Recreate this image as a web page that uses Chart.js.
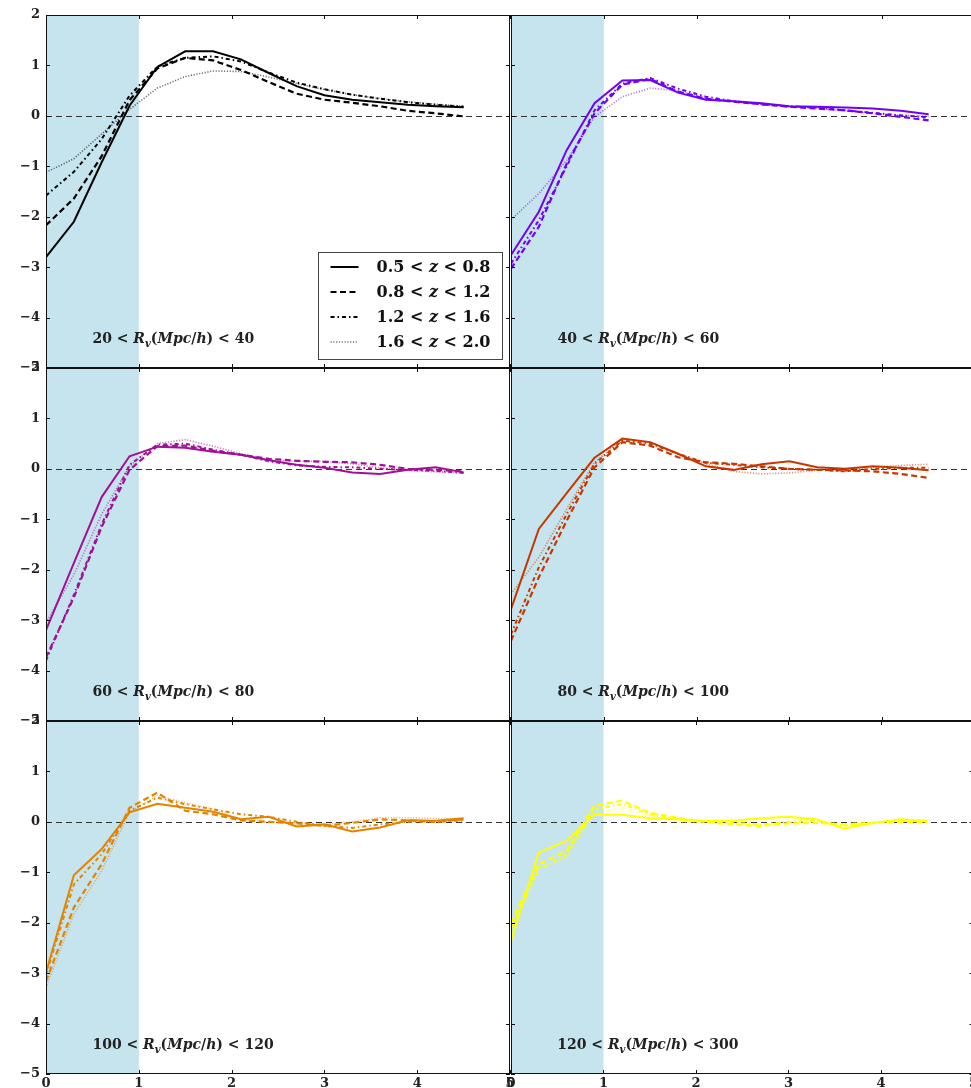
<!DOCTYPE html>
<html>
<head>
<meta charset="utf-8">
<script src="https://cdn.jsdelivr.net/npm/chart.js@4.4.1/dist/chart.umd.min.js"></script>
<style>
  html, body { margin: 0; padding: 0; background: #fff; width: 971px; height: 1088px; overflow: hidden; }
  #figure { position: relative; width: 971px; height: 1088px; overflow: hidden; }
  #figure canvas { position: absolute; left: 0; top: 0; }
</style>
</head>
<body>
<div id="figure"></div>
<script>
// Radial distance in units of the void radius
const radius = [0, 0.3, 0.6, 0.9, 1.2, 1.5, 1.8, 2.1, 2.4, 2.7, 3.0, 3.3, 3.6, 3.9, 4.2, 4.5];

// Redshift bins (one line style each) and void-radius bins (one panel each)
const redshiftBins = ['0.5 < z < 0.8', '0.8 < z < 1.2', '1.2 < z < 1.6', '1.6 < z < 2.0'];
const rvLow  = [20, 40, 60, 80, 100, 120];
const rvHigh = [40, 60, 80, 100, 120, 300];

// Axis ticks
const xTicks = [0, 1, 2, 3, 4, 5];
const yTicks = [-5, -4, -3, -2, -1, 0, 1, 2];
const innerRegion = [0, 1];

// 20 < Rv < 40
const rv20_z05 = [-2.80, -2.10, -0.92, 0.20, 0.97, 1.28, 1.28, 1.12, 0.85, 0.59, 0.41, 0.32, 0.27, 0.22, 0.19, 0.17];
const rv20_z08 = [-2.17, -1.64, -0.80, 0.31, 0.94, 1.15, 1.10, 0.91, 0.67, 0.44, 0.32, 0.26, 0.19, 0.10, 0.05, -0.01];
const rv20_z12 = [-1.58, -1.11, -0.46, 0.40, 0.98, 1.15, 1.18, 1.08, 0.86, 0.66, 0.53, 0.42, 0.34, 0.27, 0.22, 0.18];
const rv20_z16 = [-1.12, -0.85, -0.36, 0.13, 0.55, 0.78, 0.89, 0.88, 0.77, 0.64, 0.52, 0.42, 0.34, 0.28, 0.23, 0.19];
// 40 < Rv < 60
const rv40_z05 = [-2.76, -1.90, -0.68, 0.25, 0.70, 0.71, 0.46, 0.32, 0.29, 0.25, 0.19, 0.18, 0.165, 0.145, 0.10, 0.03];
const rv40_z08 = [-3.03, -2.20, -0.95, 0.05, 0.62, 0.73, 0.48, 0.34, 0.28, 0.23, 0.18, 0.145, 0.11, 0.05, -0.02, -0.09];
const rv40_z12 = [-2.93, -2.07, -1.00, 0.11, 0.64, 0.75, 0.54, 0.38, 0.29, 0.23, 0.19, 0.165, 0.11, 0.06, 0.01, -0.03];
const rv40_z16 = [-2.06, -1.54, -0.88, -0.02, 0.38, 0.55, 0.50, 0.35, 0.29, 0.23, 0.18, 0.15, 0.10, 0.05, 0.01, -0.01];
// 60 < Rv < 80
const rv60_z05 = [-3.20, -1.87, -0.56, 0.25, 0.44, 0.42, 0.34, 0.28, 0.17, 0.08, 0.02, -0.07, -0.10, -0.02, 0.03, -0.07];
const rv60_z08 = [-3.74, -2.55, -1.15, -0.02, 0.45, 0.46, 0.36, 0.28, 0.20, 0.16, 0.14, 0.13, 0.08, 0.00, -0.02, -0.05];
const rv60_z12 = [-3.80, -2.50, -1.10, 0.08, 0.48, 0.50, 0.38, 0.28, 0.15, 0.07, 0.04, 0.03, 0.00, -0.02, -0.04, -0.08];
const rv60_z16 = [-3.05, -2.10, -0.90, 0.05, 0.50, 0.58, 0.45, 0.30, 0.18, 0.15, 0.15, 0.10, 0.02, -0.03, -0.06, -0.08];
// 80 < Rv < 100
const rv80_z05 = [-2.78, -1.19, -0.48, 0.22, 0.60, 0.53, 0.30, 0.05, -0.02, 0.09, 0.15, 0.03, 0.00, 0.05, 0.02, -0.03];
const rv80_z08 = [-3.41, -2.15, -1.03, 0.03, 0.53, 0.46, 0.23, 0.13, 0.10, 0.05, 0.00, -0.02, -0.03, -0.05, -0.10, -0.18];
const rv80_z12 = [-3.28, -1.95, -0.90, 0.10, 0.56, 0.50, 0.30, 0.12, 0.08, 0.03, 0.00, -0.02, -0.05, 0.00, 0.02, 0.02];
const rv80_z16 = [-2.48, -1.75, -0.80, 0.13, 0.58, 0.52, 0.30, 0.10, -0.05, -0.10, -0.08, -0.03, 0.00, 0.03, 0.07, 0.09];
// 100 < Rv < 120
const rv100_z05 = [-2.99, -1.06, -0.54, 0.19, 0.36, 0.28, 0.20, 0.05, 0.10, -0.09, -0.05, -0.19, -0.11, 0.03, 0.02, 0.07];
const rv100_z08 = [-3.16, -1.70, -0.84, 0.28, 0.58, 0.22, 0.15, 0.03, 0.00, -0.03, -0.08, -0.02, 0.05, 0.03, 0.00, 0.05];
const rv100_z12 = [-3.03, -1.24, -0.64, 0.22, 0.48, 0.35, 0.25, 0.15, 0.10, 0.00, -0.08, -0.12, -0.05, 0.00, 0.00, 0.03];
const rv100_z16 = [-3.29, -1.83, -0.97, 0.19, 0.52, 0.38, 0.25, 0.05, 0.00, -0.02, -0.05, 0.00, 0.08, 0.08, 0.07, 0.05];
// 120 < Rv < 300
const rv120_z05 = [-2.36, -0.61, -0.38, 0.14, 0.14, 0.07, 0.05, 0.02, 0.02, 0.07, 0.10, 0.05, -0.13, -0.03, 0.05, 0.02];
const rv120_z08 = [-2.00, -0.84, -0.58, 0.32, 0.42, 0.18, 0.08, 0.00, -0.05, -0.08, -0.03, -0.02, -0.05, -0.02, 0.00, 0.00];
const rv120_z12 = [-2.10, -0.95, -0.65, 0.25, 0.35, 0.15, 0.05, 0.00, -0.02, -0.05, 0.00, 0.02, -0.08, -0.02, 0.03, 0.00];
const rv120_z16 = [-2.20, -0.90, -0.72, 0.18, 0.28, 0.12, 0.00, -0.02, -0.05, -0.05, -0.02, 0.00, -0.05, 0.00, 0.02, 0.00];

const panelSeries = [
  [rv20_z05, rv20_z08, rv20_z12, rv20_z16],
  [rv40_z05, rv40_z08, rv40_z12, rv40_z16],
  [rv60_z05, rv60_z08, rv60_z12, rv60_z16],
  [rv80_z05, rv80_z08, rv80_z12, rv80_z16],
  [rv100_z05, rv100_z08, rv100_z12, rv100_z16],
  [rv120_z05, rv120_z08, rv120_z12, rv120_z16]
];

// One colour per void-radius bin (gnuplot colour map steps)
const panelColors = ['0,0,0', '114,2,243', '161,16,150', '198,55,0', '228,131,0', '255,255,0'];

// Line styles per redshift bin
const lineStyles = [
  { dash: [], width: 2, alpha: 1 },
  { dash: [6, 3.5], width: 2.2, alpha: 1 },
  { dash: [4, 3, 1.5, 3], width: 2, alpha: 1 },
  { dash: [1.2, 1.6], width: 1.6, alpha: 0.55 }
];

// Figure grid geometry (pixels)
const FIG_W = 980, FIG_H = 1088;
const colLeft = [46, 511];
const colWidth = 464;
const rowTop = [15, 368, 721];
const rowHeight = 353;

const SERIF = '"DejaVu Serif", "Liberation Serif", serif';

function drawRich(ctx, parts, x, y, size) {
  let cx = x;
  for (const p of parts) {
    const s = p.sub ? size * 0.72 : size;
    ctx.font = (p.italic ? 'italic ' : '') + 'bold ' + s + 'px ' + SERIF;
    ctx.fillText(p.t, cx, y + (p.sub ? size * 0.28 : 0));
    cx += ctx.measureText(p.t).width;
  }
}

function zParts(label) {
  const parts = [];
  label.split('z').forEach((seg, i, arr) => {
    if (seg) parts.push({ t: seg });
    if (i < arr.length - 1) parts.push({ t: 'z', italic: true });
  });
  return parts;
}

const panelDecor = {
  id: 'panelDecor',
  beforeDatasetsDraw(chart) {
    const { ctx, chartArea: a, scales: { x, y } } = chart;
    ctx.save();
    // inner region shading
    const x0 = x.getPixelForValue(innerRegion[0]);
    const x1 = x.getPixelForValue(innerRegion[1]);
    ctx.fillStyle = 'rgba(173,216,230,0.7)';
    ctx.fillRect(x0, a.top, x1 - x0, a.bottom - a.top);
    // zero reference line
    const yz = Math.round(y.getPixelForValue(0)) + 0.5;
    ctx.strokeStyle = '#333';
    ctx.lineWidth = 1;
    ctx.setLineDash([6, 4]);
    ctx.beginPath();
    ctx.moveTo(a.left, yz);
    ctx.lineTo(a.right, yz);
    ctx.stroke();
    ctx.restore();
  },
  afterDatasetsDraw(chart, args, opts) {
    const { ctx, chartArea: a, scales: { x, y } } = chart;
    ctx.save();
    // frame
    ctx.strokeStyle = '#111';
    ctx.lineWidth = 1;
    ctx.setLineDash([]);
    const L = Math.round(a.left) + 0.5, R = Math.round(a.right) - 0.5;
    const T = Math.round(a.top) + 0.5, B = Math.round(a.bottom) - 0.5;
    ctx.strokeRect(L, T, R - L, B - T);
    // inward ticks on all four sides
    ctx.beginPath();
    for (const v of xTicks) {
      const px = Math.round(x.getPixelForValue(v)) + 0.5;
      ctx.moveTo(px, a.top); ctx.lineTo(px, a.top + 4);
      ctx.moveTo(px, a.bottom); ctx.lineTo(px, a.bottom - 4);
    }
    for (const v of yTicks) {
      const py = Math.round(y.getPixelForValue(v)) + 0.5;
      ctx.moveTo(a.left, py); ctx.lineTo(a.left + 4, py);
      ctx.moveTo(a.right, py); ctx.lineTo(a.right - 4, py);
    }
    ctx.stroke();

    // void radius bin label
    ctx.fillStyle = '#222';
    ctx.textBaseline = 'alphabetic';
    ctx.textAlign = 'left';
    const lx = x.getPixelForValue(0.5), ly = y.getPixelForValue(-4.5);
    drawRich(ctx, [
      { t: String(opts.low) }, { t: ' < ' },
      { t: 'R', italic: true }, { t: 'v', italic: true, sub: true },
      { t: '(' }, { t: 'Mpc', italic: true }, { t: '/' }, { t: 'h', italic: true }, { t: ')' },
      { t: ' < ' }, { t: String(opts.high) }
    ], lx, ly, 14);

    // legend box
    if (opts.legend) {
      const bw = 184, bh = 107;
      const bx = Math.round(a.right - 8 - bw) + 0.5;
      const by = Math.round(a.bottom - 9 - bh) + 0.5;
      ctx.fillStyle = '#fff';
      ctx.fillRect(bx, by, bw, bh);
      ctx.strokeStyle = '#444';
      ctx.lineWidth = 1;
      ctx.strokeRect(bx, by, bw, bh);
      chart.data.datasets.forEach((ds, i) => {
        const ry = by + 14.5 + i * 25;
        ctx.save();
        ctx.strokeStyle = ds.borderColor;
        ctx.lineWidth = ds.borderWidth;
        ctx.setLineDash(ds.borderDash);
        ctx.beginPath();
        ctx.moveTo(bx + 12, ry);
        ctx.lineTo(bx + 40, ry);
        ctx.stroke();
        ctx.restore();
        ctx.fillStyle = '#111';
        ctx.textBaseline = 'middle';
        drawRich(ctx, zParts(ds.label), bx + 58, ry + 1, 16);
      });
    }
    ctx.restore();
  }
};

const figure = document.getElementById('figure');

panelSeries.forEach((series, p) => {
  const col = p % 2, row = Math.floor(p / 2);
  const showY = col === 0;
  const showX = row === 2;
  const plotLeft = colLeft[col], plotRight = colLeft[col] + colWidth;
  const plotTop = rowTop[row], plotBottom = rowTop[row] + rowHeight;
  const yAxisW = 46, xAxisH = FIG_H - plotBottom;

  const canvas = document.createElement('canvas');
  canvas.width = FIG_W; canvas.height = FIG_H;
  canvas.style.width = FIG_W + 'px'; canvas.style.height = FIG_H + 'px';
  figure.appendChild(canvas);

  const datasets = series.map((vals, s) => {
    const st = lineStyles[s];
    return {
      label: redshiftBins[s],
      data: radius.map((r, i) => ({ x: r, y: vals[i] })),
      borderColor: 'rgba(' + panelColors[p] + ',' + st.alpha + ')',
      borderWidth: st.width,
      borderDash: st.dash,
      pointRadius: 0,
      tension: 0,
      fill: false
    };
  });
  // draw the lighter dotted bin first so the others sit above it
  datasets.forEach((d, i) => d.order = 4 - i);

  new Chart(canvas, {
    type: 'line',
    data: { datasets },
    options: {
      responsive: false,
      devicePixelRatio: 1,
      animation: false,
      events: [],
      layout: {
        autoPadding: false,
        padding: {
          left: showY ? plotLeft - yAxisW : plotLeft,
          right: FIG_W - plotRight,
          top: plotTop,
          bottom: showX ? 0 : FIG_H - plotBottom
        }
      },
      plugins: {
        legend: { display: false },
        tooltip: { enabled: false },
        panelDecor: { low: rvLow[p], high: rvHigh[p], legend: p === 0 }
      },
      scales: {
        x: {
          type: 'linear', min: 0, max: 5,
          display: showX,
          grid: { display: false, drawTicks: false },
          border: { display: false },
          afterBuildTicks: (sc) => { sc.ticks = xTicks.map(v => ({ value: v })); },
          afterFit: (sc) => { sc.height = showX ? xAxisH : 0; },
          ticks: {
            padding: 2, maxRotation: 0, autoSkip: false,
            color: '#222',
            font: { family: SERIF, size: 13, weight: 'bold' },
            callback: (v) => String(v)
          }
        },
        y: {
          type: 'linear', min: -5, max: 2,
          display: showY,
          grid: { display: false, drawTicks: false },
          border: { display: false },
          afterBuildTicks: (sc) => { sc.ticks = yTicks.map(v => ({ value: v })); },
          afterFit: (sc) => { sc.width = showY ? yAxisW : 0; },
          ticks: {
            padding: 6, autoSkip: false,
            color: '#222',
            font: { family: SERIF, size: 13, weight: 'bold' },
            callback: (v) => (v < 0 ? '\u2212' + Math.abs(v) : String(v))
          }
        }
      }
    },
    plugins: [panelDecor]
  });
});
</script>
</body>
</html>
